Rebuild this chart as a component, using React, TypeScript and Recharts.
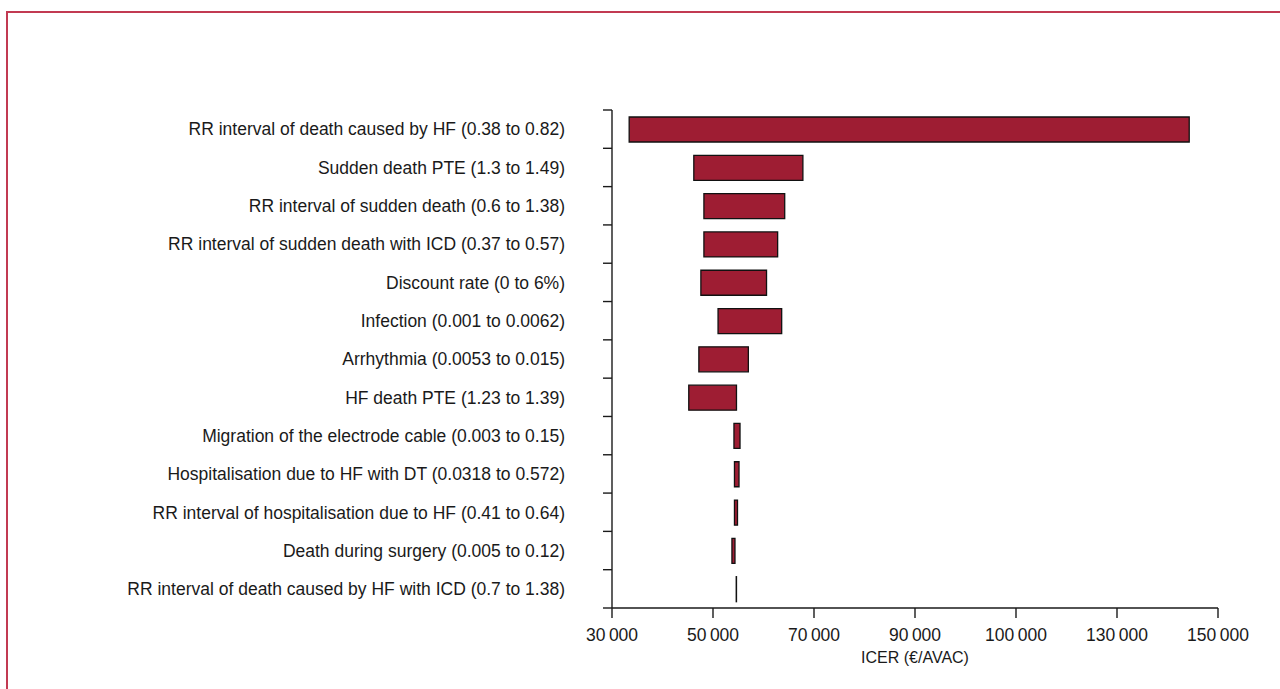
import { Bar, BarChart, XAxis, YAxis } from "recharts";

// tornado diagram, one-way sensitivity analysis of the ICER
const PARAMETERS = [
  "RR interval of death caused by HF (0.38 to 0.82)",
  "Sudden death PTE (1.3 to 1.49)",
  "RR interval of sudden death (0.6 to 1.38)",
  "RR interval of sudden death with ICD (0.37 to 0.57)",
  "Discount rate (0 to 6%)",
  "Infection (0.001 to 0.0062)",
  "Arrhythmia (0.0053 to 0.015)",
  "HF death PTE (1.23 to 1.39)",
  "Migration of the electrode cable (0.003 to 0.15)",
  "Hospitalisation due to HF with DT (0.0318 to 0.572)",
  "RR interval of hospitalisation due to HF (0.41 to 0.64)",
  "Death during surgery (0.005 to 0.12)",
  "RR interval of death caused by HF with ICD (0.7 to 1.38)",
];

const ICER_LOW = [
  33400, 46200, 48200, 48200, 47600, 51000, 47200, 45200, 54150, 54250, 54250,
  53750, 54600,
];
const ICER_HIGH = [
  144300, 67800, 64200, 62800, 60600, 63600, 57000, 54650, 55350, 55150, 54850,
  54350, 54650,
];

const X_TICKS = [30000, 50000, 70000, 90000, 110000, 130000, 150000];
const X_TICK_LABELS = [
  "30\u2009000",
  "50\u2009000",
  "70\u2009000",
  "90\u2009000",
  "100\u2009000",
  "130\u2009000",
  "150\u2009000",
];

const data = PARAMETERS.map((name, i) => ({
  name,
  range: [ICER_LOW[i], ICER_HIGH[i]],
}));

const WIDTH = 1280;
const HEIGHT = 689;
const TOP = 110;
const AXIS_W = 612;
const X_AXIS_H = 81;
const PLOT_H = HEIGHT - TOP - X_AXIS_H;
const BAND = PLOT_H / PARAMETERS.length;

const FONT = "'Liberation Sans', Arial, sans-serif";
const INK = "#1a1a1a";

function ParameterTick(props: any) {
  const { x, y, payload } = props;
  const index = props.index ?? payload.index;
  const half = BAND / 2;
  return (
    <g>
      <line x1={x - 9} x2={x} y1={y - half} y2={y - half} stroke={INK} strokeWidth={1.4} />
      {index === PARAMETERS.length - 1 && (
        <line x1={x - 9} x2={x} y1={y + half} y2={y + half} stroke={INK} strokeWidth={1.4} />
      )}
      <text
        x={x - 47}
        y={y}
        dy="0.36em"
        textAnchor="end"
        fill={INK}
        fontFamily={FONT}
        fontSize={17.5}
      >
        {payload.value}
      </text>
    </g>
  );
}

export default function App() {
  return (
    <div
      style={{
        position: "absolute",
        left: 0,
        top: 0,
        width: WIDTH,
        height: HEIGHT,
        background: "#fff",
        overflow: "hidden",
      }}
    >
      <div
        style={{
          position: "absolute",
          left: 6,
          top: 11,
          width: WIDTH,
          height: HEIGHT,
          borderTop: "2px solid #c23a52",
          borderLeft: "2px solid #c23a52",
        }}
      />
      <BarChart
        width={WIDTH}
        height={HEIGHT}
        data={data}
        layout="vertical"
        margin={{ top: TOP, right: 62, bottom: 0, left: 0 }}
        style={{ position: "absolute", left: 0, top: 0 }}
      >
        <XAxis
          type="number"
          domain={[30000, 150000]}
          ticks={X_TICKS}
          interval={0}
          tickFormatter={(_v: number, i: number) => X_TICK_LABELS[i]}
          height={X_AXIS_H}
          tickSize={10}
          tickMargin={11}
          stroke={INK}
          strokeWidth={1.4}
          tick={{ fill: INK, fontFamily: FONT, fontSize: 17.5 }}
          label={{
            value: "ICER (€/AVAC)",
            position: "insideBottom",
            offset: 26,
            fill: INK,
            fontFamily: FONT,
            fontSize: 16,
          }}
        />
        <YAxis
          type="category"
          dataKey="name"
          width={AXIS_W}
          tickSize={0}
          tickMargin={0}
          tickLine={false}
          interval={0}
          stroke={INK}
          strokeWidth={1.4}
          tick={<ParameterTick />}
        />
        <Bar
          dataKey="range"
          fill="#9e1d33"
          stroke="#111"
          strokeWidth={1.3}
          barSize={25}
          isAnimationActive={false}
        />
      </BarChart>
    </div>
  );
}
